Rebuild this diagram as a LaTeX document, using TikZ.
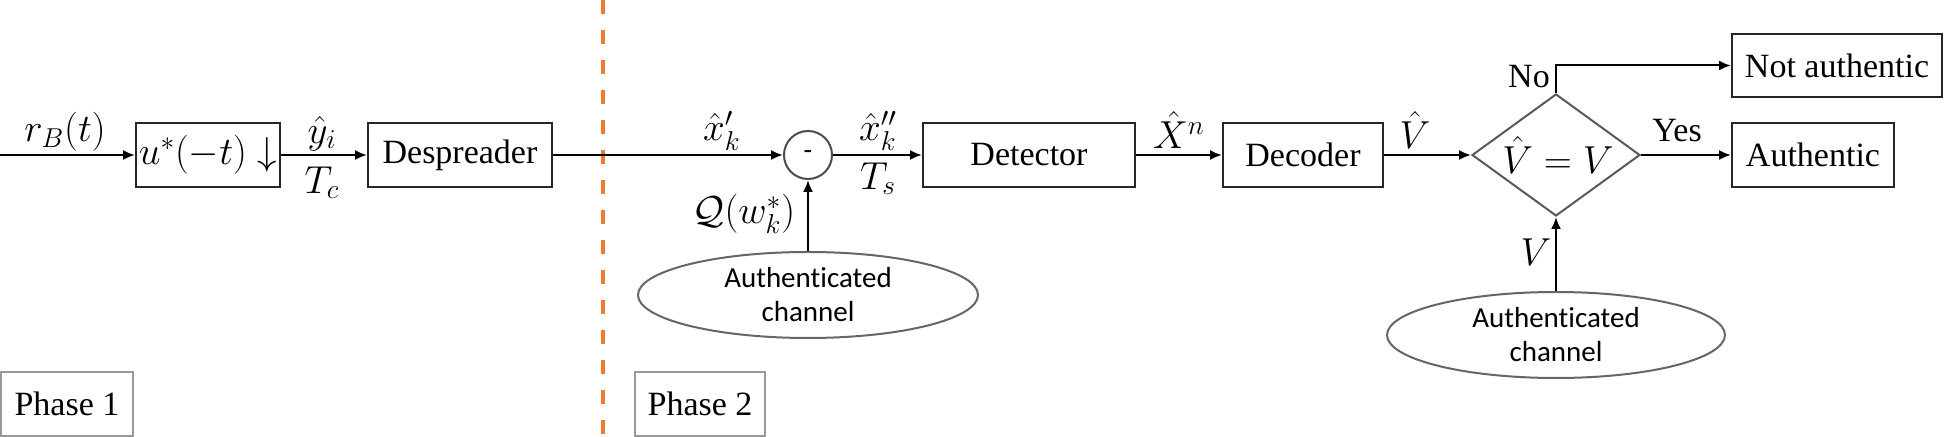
\documentclass[tikz,border=0pt]{standalone}
\usepackage{fix-cm}
\usepackage[no-math]{fontspec}
\setmainfont{Liberation Serif}
\newfontfamily\calib[Ligatures={NoCommon}]{Carlito}
\usetikzlibrary{shapes.geometric,arrows.meta}
\definecolor{sepor}{HTML}{ED7D31}
\begin{document}
\begin{tikzpicture}[x=0.5pt,y=-0.5pt,
  font=\fontsize{17}{20}\selectfont,
  blk/.style={draw=black!85, line width=1pt, inner sep=0pt, minimum height=32pt},
  ell/.style={ellipse, draw=black!60, line width=1pt, inner sep=0pt, minimum width=170pt, minimum height=43pt, font=\calib\fontsize{14.5}{17}\selectfont, align=center},
  arr/.style={line width=1pt, -{Latex[length=6pt,width=5pt]}},
  lbl/.style={inner sep=0pt, font=\fontsize{19.5}{22}\selectfont},
  phase/.style={draw=black!40, line width=1pt, inner sep=0pt},
  sepline/.style={draw=sepor, line width=2pt, dash pattern=on 7pt off 8pt}
]
\useasboundingbox (0,0) rectangle (1944,437);

% separator
\coordinate (dtop) at (603,0);
\coordinate (dbot) at (603,437);
\draw[sepline] (dtop) -- (dbot);

% blocks
\node[blk, minimum width=72pt, font=\fontsize{19.5}{22}\selectfont] (ubox) at (208,155) {$u^*(-t)\downarrow$};
\node[blk, minimum width=92pt] (desp) at (460,155) {Despreader};
\node[circle, draw=black!70, line width=1pt, minimum size=24pt, inner sep=0pt, font=\calib\fontsize{14}{16}\selectfont] (circ) at (808,155) {-};
\node[blk, minimum width=106pt] (det) at (1029,155) {Detector};
\node[blk, minimum width=80pt] (dec) at (1303,155) {Decoder};
\node[diamond, draw=black!65, line width=1pt, minimum width=84pt, minimum height=61pt, inner sep=0pt] (dia) at (1556,155) {};
\node[lbl] (diat) at (1558,155) {$\hat V = V$};
\node[blk, minimum width=81pt] (auth) at (1813,155) {Authentic};
\node[blk, minimum width=105pt, minimum height=31.5pt] (nauth) at (1837,65.5) {Not authentic};
\node[ell] (e1) at (808,295) {Authenticated\\channel};
\node[ell, minimum width=169pt] (e2) at (1556,335) {Authenticated\\channel};
\node[phase, minimum width=66pt, minimum height=32pt] (p1) at (67,404) {Phase 1};
\node[phase, minimum width=65pt, minimum height=32pt] (p2) at (700,404) {Phase 2};

% connectors
\coordinate (start) at (0,155);
\draw[arr] (start) -- (ubox.west);
\draw[arr] (ubox.east) -- (desp.west);
\draw[arr] (desp.east) -- (circ.west);
\draw[arr] (circ.east) -- (det.west);
\draw[arr] (e1.north) -- (circ.south);
\draw[arr] (det.east) -- (dec.west);
\draw[arr] (dec.east) -- (dia.west);
\draw[arr] (dia.east) -- (auth.west);
\draw[arr] (dia.north) |- (nauth.west);
\draw[arr] (e2.north) -- (dia.south);

% labels
\node[lbl, anchor=south] (lrb) at (65,152) {$r_B(t)$};
\node[lbl, anchor=south] (lyi) at (322,151) {$\hat y_i$};
\node[lbl, anchor=north] (ltc) at (322,166) {$T_c$};
\node[lbl, anchor=south] (lx1) at (722,151) {$\hat x'_k$};
\node[lbl, anchor=south] (lx2) at (878,151) {$\hat x''_k$};
\node[lbl, anchor=north] (lts) at (878,162) {$T_s$};
\node[lbl] (lq) at (744,214) {$\mathcal{Q}(w_k^*)$};
\node[lbl, anchor=south] (lxn) at (1179,149) {$\hat X^n$};
\node[lbl, anchor=south] (lv1) at (1415,149) {$\hat V$};
\node[lbl] (lv2) at (1536,252) {$V$};
\node[anchor=base, inner sep=0pt] (lyes) at (1677,142) {Yes};
\node[anchor=base, inner sep=0pt] (lno) at (1529,88) {No};
\end{tikzpicture}
\end{document}
